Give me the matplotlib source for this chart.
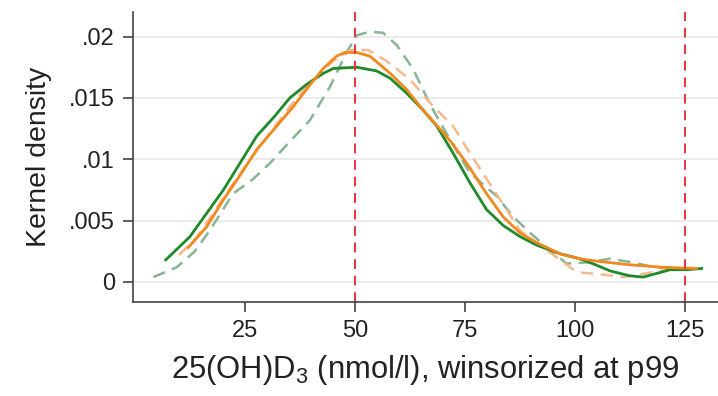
import matplotlib
matplotlib.use("Agg")
import matplotlib.pyplot as plt

# kernel density curves
green_x = [7, 12.5, 16.3, 20.1, 23.9, 27.7, 31.5, 35.2, 39, 42.8, 45.1, 50.4, 54.9, 58, 61.7, 65.5,
           68.6, 72.3, 76.1, 79.9, 83.7, 87.5, 91.3, 96.6, 101, 104, 108, 112.5, 115.5, 118.6, 121.6,
           125.4, 128.8]
green_y = [0.0018, 0.0037, 0.0056, 0.0075, 0.0097, 0.0119, 0.0134, 0.0150, 0.0161, 0.0170, 0.0174,
           0.0175, 0.0172, 0.0166, 0.0154, 0.0140, 0.0127, 0.0105, 0.0081, 0.0059, 0.0046, 0.0037,
           0.0030, 0.0023, 0.0019, 0.0015, 0.0009, 0.0005, 0.0004, 0.0007, 0.0010, 0.0010, 0.0011]

orange_x = [12.1, 16.3, 20.1, 23.9, 27.7, 31.5, 36, 39, 42.8, 45.8, 47.7, 50.4, 53.4, 58, 61.7, 65.5,
            70, 72.3, 76.1, 79.9, 83.7, 87.5, 91.3, 96.6, 101, 104.9, 112.5, 120, 127.6]
orange_y = [0.0028, 0.0045, 0.0067, 0.0087, 0.0108, 0.0124, 0.0143, 0.0157, 0.0174, 0.0184, 0.0187,
            0.0187, 0.0184, 0.0170, 0.0157, 0.0140, 0.0122, 0.0112, 0.0093, 0.0072, 0.0053, 0.0040,
            0.0032, 0.0023, 0.0019, 0.0017, 0.0014, 0.0012, 0.0011]

green_d_x = [4.2, 9.5, 13.6, 17, 22.3, 26.9, 31, 34.8, 39.8, 44.3, 48.1, 50.4, 53.4, 56.4, 59.5, 63.3,
             67, 71.6, 76.1, 82.2, 86, 89.8, 94.3, 98.1, 103, 108, 113, 118, 123, 128]
green_d_y = [0.0004, 0.0012, 0.0025, 0.0042, 0.0072, 0.0084, 0.0098, 0.0113, 0.0132, 0.0159, 0.0187,
             0.0201, 0.0204, 0.0203, 0.0193, 0.0173, 0.0145, 0.0116, 0.0089, 0.0070, 0.0053, 0.0040,
             0.0026, 0.0015, 0.0016, 0.0019, 0.0016, 0.0012, 0.0011, 0.0011]

orange_d_x = [10, 14, 20, 25, 30, 35, 40, 45, 49, 53, 57.2, 62.5, 67.8, 72.3, 76.1, 83, 87.5, 93.6,
              100.4, 106.4, 111, 116, 121, 128]
orange_d_y = [0.0022, 0.0036, 0.0068, 0.0094, 0.0118, 0.0142, 0.0163, 0.0180, 0.0189, 0.0189, 0.0180,
              0.0165, 0.0143, 0.0127, 0.0105, 0.0067, 0.0042, 0.0026, 0.0008, 0.0006, 0.0004, 0.0007,
              0.0010, 0.0012]

cutoffs = [50, 125]
xticks = [25, 50, 75, 100, 125]
yticks = [0, 0.005, 0.01, 0.015, 0.02]
ytick_labels = ['0', '.005', '.01', '.015', '.02']

plt.rcParams['font.family'] = ['Liberation Sans', 'DejaVu Sans']
plt.rcParams['mathtext.fontset'] = 'custom'
plt.rcParams['mathtext.rm'] = 'Liberation Sans'
plt.rcParams['mathtext.it'] = 'Liberation Sans'

fig = plt.figure(figsize=(7.18, 3.96), dpi=100)
ax = fig.add_axes([0.1852, 0.2374, 0.8148, 0.7323])

ax.plot(green_d_x, green_d_y, color='#86b494', lw=1.8, dashes=(5, 3))
ax.plot(orange_d_x, orange_d_y, color='#f6b98c', lw=1.8, dashes=(5, 3))
ax.plot(green_x, green_y, color='#1f8a2a', lw=2.0)
ax.plot(orange_x, orange_y, color='#f2891e', lw=2.0)
for c in cutoffs:
    ax.axvline(c, color='#e8323c', lw=1.4, dashes=(5, 3.5))

ax.set_xlim(-0.45, 132.5)
ax.set_ylim(-0.00163, 0.0220)
ax.set_xticks(xticks)
ax.set_yticks(yticks)
ax.set_yticklabels(ytick_labels)
ax.yaxis.grid(True, color='#ebebeb', lw=1.5)
ax.set_axisbelow(True)

for s in ['top', 'right']:
    ax.spines[s].set_visible(False)
for s in ['left', 'bottom']:
    ax.spines[s].set_color('#444444')
    ax.spines[s].set_linewidth(1.2)
ax.tick_params(axis='both', labelsize=17, length=7, width=1.2, color='#444444',
               labelcolor='#222222', pad=6)

ax.set_xlabel('25(OH)D$_3$ (nmol/l), winsorized at p99', fontsize=22.3, color='#222222', labelpad=8)
ax.set_ylabel('Kernel density', fontsize=20.5, color='#222222', labelpad=12)

fig.savefig('out.png', dpi=100)
